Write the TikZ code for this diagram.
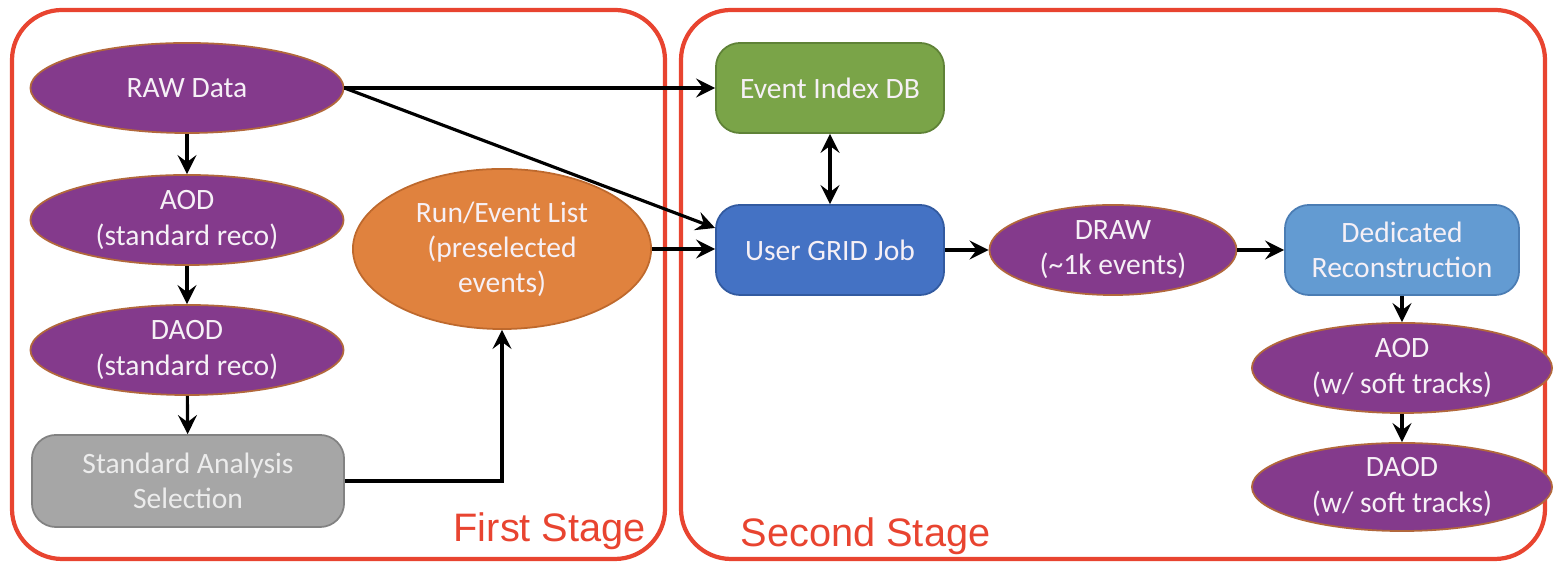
\documentclass[tikz,border=0pt]{standalone}
\usepackage{fontspec}
\setmainfont{Carlito}
\newfontfamily\arialf{Liberation Sans}
\usetikzlibrary{shapes.geometric,arrows.meta}
\definecolor{purp}{RGB}{132,58,140}
\definecolor{purpb}{RGB}{178,104,60}
\definecolor{orng}{RGB}{224,130,62}
\definecolor{orngb}{RGB}{190,105,45}
\definecolor{grn}{RGB}{122,164,72}
\definecolor{grnb}{RGB}{95,130,55}
\definecolor{blu}{RGB}{68,114,196}
\definecolor{blub}{RGB}{50,90,160}
\definecolor{lblu}{RGB}{99,155,210}
\definecolor{lblub}{RGB}{75,125,180}
\definecolor{gry}{RGB}{166,166,166}
\definecolor{gryb}{RGB}{130,130,130}
\definecolor{fred}{RGB}{232,68,48}
\definecolor{txtw}{RGB}{246,240,246}
\definecolor{txtg}{RGB}{236,236,236}
\begin{document}
\begin{tikzpicture}[x=0.01cm,y=-0.01cm,
  every node/.style={font=\fontsize{8.4}{10}\selectfont, text=txtw, align=center, inner sep=0pt},
  ell/.style={ellipse, fill=#1, draw=#1b, line width=0.5pt},
  ell/.default=purp,
  rbox/.style={rectangle, rounded corners=0.24cm, fill=#1, draw=#1b, line width=0.5pt},
  arr/.style={-{Stealth[length=1.9mm,width=1.9mm,inset=0.7mm]}, line width=0.9pt, black},
  arrb/.style={{Stealth[length=1.9mm,width=1.9mm,inset=0.7mm]}-{Stealth[length=1.9mm,width=1.9mm,inset=0.7mm]}, line width=0.9pt, black},
  frame/.style={draw=fred, line width=1.2pt, rounded corners=0.5cm},
  stagelbl/.style={font=\arialf\fontsize{11.3}{13}\selectfont, text=fred, anchor=base west}
]
\useasboundingbox (0,0) rectangle (1554,565);
% frames
\draw[frame] (12,10) rectangle (665,559);
\draw[frame] (681,10) rectangle (1545,559);
% first stage nodes
\node[ell, minimum width=3.13cm, minimum height=0.9cm] (raw) at (187,88) {RAW Data};
\node[ell, minimum width=3.13cm, minimum height=0.9cm] (aod) at (187,220) {AOD\\(standard reco)};
\node[ell, minimum width=3.13cm, minimum height=0.9cm] (daod) at (187,350) {DAOD\\(standard reco)};
\node[rbox=gry, text=txtg, minimum width=3.12cm, minimum height=0.92cm] (std) at (188,481) {Standard Analysis\\Selection};
\node[ell=orng, minimum width=2.98cm, minimum height=1.6cm] (rel) at (502,249) {Run/Event List\\(preselected\\events)};
% second stage nodes
\node[rbox=grn, minimum width=2.28cm, minimum height=0.9cm] (eidb) at (830,88) {Event Index DB};
\node[rbox=blu, minimum width=2.28cm, minimum height=0.9cm] (ugj) at (830,250) {User GRID Job};
\node[ell, minimum width=2.47cm, minimum height=0.9cm] (drw) at (1113,250) {DRAW\\(\textasciitilde1k events)};
\node[rbox=lblu, minimum width=2.34cm, minimum height=0.9cm] (ded) at (1402,250) {Dedicated\\Reconstruction};
\node[ell, minimum width=3.0cm, minimum height=0.9cm] (aod2) at (1402,368) {AOD\\(w/ soft tracks)};
\node[ell, minimum width=3.0cm, minimum height=0.88cm] (daod2) at (1402,487) {DAOD\\(w/ soft tracks)};
% labels
\node[stagelbl] (fs) at (453,542) {First Stage};
\node[stagelbl] (ss) at (740,547) {Second Stage};
% connectors
\draw[arr] (raw) -- (aod);
\draw[arr] (aod) -- (daod);
\draw[arr] (daod) -- (std);
\draw[arr] (std.east) -| (rel.south);
\draw[arr] (raw.east) -- (eidb.west);
\draw[arr] (raw.east) -- ([yshift=0.22cm]ugj.west);
\draw[arr] (rel.east) -- (rel.east -| ugj.west);
\draw[arrb] (eidb) -- (ugj);
\draw[arr] (ugj) -- (drw);
\draw[arr] (drw) -- (ded);
\draw[arr] (ded) -- (aod2);
\draw[arr] (aod2) -- (daod2);
\end{tikzpicture}
\end{document}
